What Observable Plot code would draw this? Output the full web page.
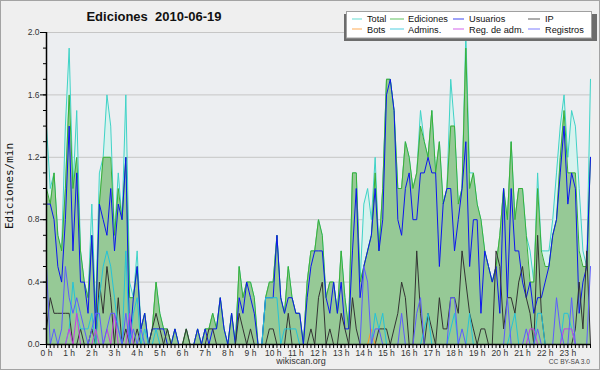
<!DOCTYPE html>
<html><head><meta charset="utf-8">
<script src="https://cdn.jsdelivr.net/npm/d3@7"></script>
<script src="https://cdn.jsdelivr.net/npm/@observablehq/plot@0.6"></script>
<style>
html,body{margin:0;padding:0;background:#efefef;}
#chart{width:600px;height:370px;}
</style></head><body><div id="chart"></div>
<script>
// ---------- text ----------
const title = "Ediciones  2010-06-19";
const yLabel = "Ediciones/min";
const footer = "wikiscan.org";
const license = "CC BY-SA 3.0";
const hourLabels = [0,1,2,3,4,5,6,7,8,9,10,11,12,13,14,15,16,17,18,19,20,21,22,23];
const yTicks = [0,0.4,0.8,1.2,1.6,2.0];
const yMinorTicks = [0,0.1,0.2,0.3,0.4,0.5,0.6,0.7,0.8,0.9,1.0,1.1,1.2,1.3,1.4,1.5,1.6,1.7,1.8,1.9,2.0];
const slotsPerHour = 6; // one value every 10 minutes, 00:00 .. 24:00

// ---------- series (edits per minute, one value per 10-minute slot) ----------
const total = [
 1.4,1.0,1.1,0.7,0.6,1.4,1.9,1.0,1.5,0.6,0.4,0.3,0.9,0.2,1.1,1.2,1.6,1.4,0.7,1.1,0.8,1.6,0.4,0.3,0.6,
 0.1,0.2,0.0,0.1,0.4,0.2,0.1,0.1,0.0,0.1,0.0,0.0,0.1,0.0,0.0,0.1,0.0,0.1,0.1,0.2,0.1,0.3,0.1,0.0,
 0.2,0.0,0.5,0.3,0.4,0.4,0.3,0.0,0.0,0.3,0.4,0.4,0.7,0.3,0.2,0.5,0.3,0.2,0.2,0.0,0.4,0.6,0.6,0.8,
 0.7,0.3,0.4,0.4,0.2,0.6,0.3,0.1,1.1,1.1,0.4,0.9,1.0,0.8,1.2,0.6,1.0,1.7,1.7,1.5,1.0,1.0,1.3,1.2,
 1.0,1.1,1.5,1.3,1.2,1.5,1.1,1.3,0.9,1.0,1.7,1.4,0.9,1.0,2.0,1.1,1.1,0.9,0.8,0.6,0.5,0.4,0.5,0.7,1.0,
 0.8,1.3,0.8,1.0,1.0,0.7,0.6,0.4,1.1,0.6,0.6,0.6,0.8,1.1,1.4,1.6,1.2,1.5,1.4,1.0,0.6,0.5,1.7];
const ediciones = [
 1.0,0.9,1.1,0.7,0.6,1.0,1.6,1.0,1.2,0.6,0.4,0.3,0.7,0.2,0.9,1.2,1.2,1.2,0.7,1.0,0.8,1.2,0.3,0.3,0.5,
 0.1,0.2,0.0,0.1,0.4,0.2,0.1,0.1,0.0,0.1,0.0,0.0,0.1,0.0,0.0,0.1,0.0,0.1,0.1,0.2,0.1,0.3,0.1,0.0,
 0.2,0.0,0.5,0.3,0.4,0.4,0.3,0.0,0.0,0.3,0.4,0.4,0.7,0.3,0.2,0.5,0.3,0.2,0.2,0.0,0.4,0.6,0.6,0.8,
 0.7,0.3,0.4,0.4,0.2,0.6,0.3,0.1,1.1,1.1,0.4,0.5,0.6,0.7,1.1,0.6,1.0,1.7,1.7,1.5,1.0,1.0,1.3,1.2,
 1.0,1.1,1.4,1.3,1.2,1.5,1.1,1.3,0.9,1.0,1.4,1.4,0.9,1.0,1.9,1.0,1.1,0.9,0.8,0.6,0.5,0.4,0.5,0.7,1.0,
 0.8,1.3,0.8,1.0,1.0,0.7,0.4,0.4,1.0,0.6,0.5,0.5,0.7,0.8,1.2,1.5,1.1,1.1,1.1,0.6,0.5,0.5,1.2];
const usuarios = [
 0.9,0.9,0.8,0.5,0.4,0.8,1.4,0.6,1.1,0.4,0.4,0.2,0.7,0.1,0.9,0.8,0.7,1.0,0.6,0.9,0.8,1.2,0.0,0.3,0.5,
 0.1,0.2,0.0,0.1,0.1,0.1,0.1,0.0,0.0,0.1,0.0,0.0,0.0,0.0,0.0,0.1,0.0,0.1,0.0,0.1,0.1,0.3,0.1,0.0,
 0.2,0.0,0.3,0.2,0.4,0.3,0.2,0.0,0.0,0.3,0.3,0.3,0.7,0.3,0.2,0.3,0.3,0.2,0.2,0.0,0.3,0.5,0.6,0.6,
 0.6,0.3,0.2,0.4,0.2,0.4,0.1,0.1,0.6,1.0,0.3,0.5,0.6,0.7,1.0,0.6,0.8,1.6,1.7,1.5,0.8,0.7,1.0,1.1,
 0.8,0.8,1.1,1.1,1.2,1.1,1.1,0.5,0.9,1.0,1.0,0.6,0.8,1.0,1.3,0.5,0.8,0.8,0.2,0.6,0.5,0.4,0.5,0.2,1.0,
 0.3,1.0,0.6,0.6,0.4,0.3,0.4,0.2,0.3,0.3,0.4,0.5,0.7,0.8,1.1,1.4,0.9,1.1,1.0,0.2,0.4,0.5,1.2];
const ip = [
 0.1,0.3,0.2,0.2,0.2,0.2,0.2,0.0,0.0,0.1,0.0,0.0,0.1,0.0,0.4,0.2,0.5,0.3,0.0,0.3,0.0,0.1,0.0,0.0,0.1,
 0.0,0.0,0.0,0.1,0.2,0.1,0.0,0.1,0.0,0.0,0.0,0.0,0.1,0.0,0.0,0.0,0.0,0.0,0.1,0.1,0.0,0.0,0.0,0.0,
 0.0,0.0,0.2,0.1,0.0,0.1,0.0,0.0,0.0,0.0,0.1,0.1,0.0,0.0,0.0,0.2,0.0,0.0,0.0,0.0,0.0,0.1,0.0,0.3,
 0.4,0.0,0.1,0.0,0.0,0.2,0.1,0.0,0.3,0.1,0.0,0.0,0.0,0.0,0.0,0.1,0.1,0.1,0.0,0.1,0.2,0.4,0.3,0.0,
 0.0,0.6,0.2,0.0,0.2,0.1,0.0,0.3,0.1,0.1,0.3,0.3,0.2,0.6,0.4,0.2,0.1,0.0,0.1,0.1,0.0,0.0,0.6,0.5,0.1,
 0.3,0.3,0.2,0.4,0.5,0.3,0.2,0.0,0.7,0.2,0.0,0.0,0.0,0.0,0.0,0.0,0.0,0.0,0.1,0.4,0.1,0.6,0.0];
const bots = [
 0,0,0,0,0,0,0,0,0,0,0,0,0,0,0,0,0,0,0,0,0,0,0,0,0,
 0,0,0,0,0,0,0,0,0,0,0,0,0,0,0,0,0,0,0,0,0,0,0,0,
 0,0,0,0,0,0,0,0,0,0,0,0,0,0,0,0,0,0,0,0,0,0,0,0,
 0,0,0,0,0,0,0,0,0,0,0,0,0,0.1,0,0,0,0,0,0,0,0,0,0,
 0,0,0,0,0,0,0,0,0,0,0,0,0,0,0,0,0,0,0,0,0,0,0,0,0,
 0,0,0,0,0,0,0,0,0,0,0,0,0,0,0,0,0,0,0,0,0,0,0];
const admins = [
 0,0,0,0,0,0,0.1,0.4,0.2,0.1,0.1,0.1,0.2,0,0.3,0.5,0.6,0.5,0.3,0.1,0,0.6,0,0.2,0.3,
 0,0.1,0,0,0.1,0,0,0,0,0,0,0,0,0,0,0,0,0,0,0,0,0,0,0,
 0,0,0,0,0,0,0,0,0,0.3,0.3,0.3,0.3,0,0.1,0.1,0.1,0.1,0,0,0,0,0,0,
 0,0,0,0,0,0,0,0,0,0,0,0,0,0,0.2,0.1,0.2,0,0,0,0,0,0,0,
 0,0,0,0.1,0.2,0,0,0,0,0,0.1,0.2,0,0,0,0.2,0,0,0,0,0,0,0,0,0,
 0,0.1,0.2,0,0,0,0,0,0.2,0.2,0,0,0,0,0,0.2,0.2,0.1,0,0,0,0,0];
const regAdm = [
 0,0,0,0,0,0,0.1,0,0.2,0,0,0,0,0.1,0,0,0.1,0,0.2,0,0,0,0.2,0,0,
 0,0,0,0,0,0,0,0,0,0,0,0,0,0,0,0,0,0,0,0,0,0,0,0,
 0,0,0,0,0,0,0,0,0,0,0,0,0,0,0,0,0,0,0,0,0,0,0,0,
 0,0,0,0,0,0,0,0,0,0,0,0,0,0,0,0,0,0,0,0,0,0,0,0,
 0,0,0,0,0,0,0,0,0,0,0,0,0,0,0,0,0,0,0,0,0,0,0,0,0,
 0,0,0,0,0,0,0.1,0.1,0,0,0,0,0,0,0,0.1,0.1,0.1,0,0,0,0,0];
const registros = [
 0.5,0,0.1,0,0.1,0.5,0.3,0.2,0.3,0.2,0.1,0,0.1,0.2,0.2,0,0.1,0.2,0.2,0.1,0,0.2,0,0.1,0,
 0.1,0,0,0,0,0,0,0,0,0,0,0,0,0,0,0,0,0,0,0,0,0,0,0,
 0,0,0,0,0,0,0,0,0,0,0,0,0,0,0,0,0,0,0,0,0,0,0,0,
 0,0,0,0,0,0,0,0,0,0,0,0.5,0.4,0,0.1,0.1,0,0,0,0,0,0.2,0,0,
 0,0.2,0.3,0,0,0,0,0,0,0,0.3,0.3,0,0.1,0,0,0,0,0,0,0,0,0,0,0,
 0.3,0,0,0,0,0.1,0,0,0.1,0,0,0,0,0.3,0.1,0,0,0.3,0,0,0,0,0.5];

const seriesNames  = ["Total","Ediciones","Usuarios","IP","Bots","Admins.","Reg. de adm.","Registros"];
const seriesColors = ["#3fd3c7","#38b038","#0c16ee","#333333","#ff962a","#24c3d8","#c83ce6","#5c5cff"];
const seriesData   = [total, ediciones, usuarios, ip, bots, admins, regAdm, registros];

// ---------- build ----------
const slotTimes = total.map((_, i) => i / slotsPerHour);
const rows = total.map((_, i) => ({t: slotTimes[i], v: seriesData.map(s => s[i])}));

const lineMarks = [2,3,4,5,6,7].map(k =>
  Plot.lineY(rows, {x: "t", y: d => d.v[k], stroke: seriesColors[k], strokeWidth: 1}));

const plot = Plot.plot({
  width: 600, height: 370,
  marginLeft: 46, marginRight: 10, marginTop: 32, marginBottom: 26,
  style: {background: "#efefef", fontFamily: "'Liberation Sans', Arial, sans-serif", fontSize: "9px", color: "#222"},
  x: {domain: [0, 24], label: null},
  y: {domain: [0, 2], label: null},
  marks: [
    Plot.frame({fill: "#eceef1", stroke: null}),
    Plot.gridY(yTicks.slice(1), {stroke: "#c6c6c6", strokeOpacity: 1}),
    Plot.areaY(rows, {x: "t", y: d => d.v[0], fill: "#d8f2ee"}),
    Plot.lineY(rows, {x: "t", y: d => d.v[0], stroke: seriesColors[0], strokeWidth: 1}),
    Plot.areaY(rows, {x: "t", y: d => d.v[1], fill: "#96c996"}),
    Plot.lineY(rows, {x: "t", y: d => d.v[1], stroke: seriesColors[1], strokeWidth: 1}),
    ...lineMarks,
    Plot.axisY({ticks: yMinorTicks, tickSize: 3, tickFormat: () => "", stroke: "#000"}),
    Plot.axisY({ticks: yTicks, tickSize: 6, tickPadding: 1, tickFormat: d3.format(".1f"), fontSize: 8.5, stroke: "#000", fill: "#333"}),
    Plot.axisX({ticks: slotTimes, tickSize: 4, tickFormat: () => "", stroke: "#000"}),
    Plot.axisX({ticks: hourLabels, tickSize: 4, tickPadding: 1, tickFormat: d => `${d} h`, fontSize: 8.5, stroke: "#000", fill: "#333"}),
    Plot.ruleY([0], {stroke: "#000", strokeWidth: 1.5}),
    Plot.ruleX([0], {stroke: "#000", strokeWidth: 1.5})
  ]
});

const svg = d3.select(plot);
const sans = "'Liberation Sans', Arial, sans-serif";
svg.append("rect").attr("x", 0.5).attr("y", 0.5).attr("width", 599).attr("height", 369)
  .attr("fill", "none").attr("stroke", "#a3a3a3");
svg.append("text").attr("x", 154).attr("y", 21).attr("text-anchor", "middle")
  .style("white-space", "pre").attr("font-family", sans).attr("font-weight", "bold")
  .attr("font-size", 13).attr("fill", "#111").text(title);
svg.append("text").attr("transform", "translate(13,186) rotate(-90)").attr("text-anchor", "middle")
  .attr("font-family", "'DejaVu Sans Mono', monospace").attr("font-size", 11).attr("fill", "#111").text(yLabel);
svg.append("text").attr("x", 301).attr("y", 364).attr("text-anchor", "middle")
  .attr("font-family", sans).attr("font-size", 9).attr("fill", "#333").text(footer);
svg.append("text").attr("x", 590).attr("y", 364).attr("text-anchor", "end")
  .attr("font-family", sans).attr("font-size", 6.6).attr("fill", "#444").text(license);

// legend
const lg = svg.append("g").attr("text-anchor", "start");
lg.append("rect").attr("x", 344).attr("y", 14).attr("width", 253).attr("height", 27).attr("fill", "#6c6c6c");
lg.append("rect").attr("x", 346.5).attr("y", 11.5).attr("width", 245).attr("height", 26.5)
  .attr("fill", "#fff").attr("stroke", "#a0a0a0");
const colSwatchX = [352, 390, 453, 528], colSwatchW = [10, 14, 11, 12], colTextX = [367, 408, 469, 545];
const rowBase = [22, 32.5], rowLine = [19, 29];
seriesNames.forEach((name, k) => {
  const c = k % 4, r = Math.floor(k / 4);
  lg.append("line").attr("x1", colSwatchX[c]).attr("x2", colSwatchX[c] + colSwatchW[c])
    .attr("y1", rowLine[r]).attr("y2", rowLine[r]).attr("stroke", seriesColors[k]).attr("stroke-opacity", 0.8);
  lg.append("text").attr("x", colTextX[c]).attr("y", rowBase[r]).attr("text-anchor", "start")
    .attr("font-family", sans).attr("font-size", 9.2).attr("fill", "#111").text(name);
});

document.getElementById("chart").appendChild(plot);
</script></body></html>
